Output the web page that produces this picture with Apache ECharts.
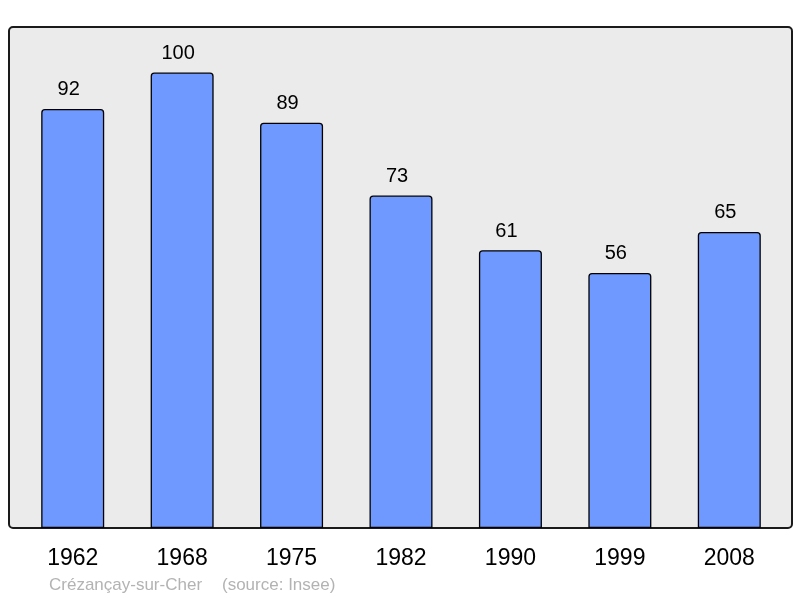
<!DOCTYPE html>
<html>
<head>
<meta charset="utf-8">
<script src="https://cdn.jsdelivr.net/npm/echarts@6/dist/echarts.min.js"></script>
<style>
  html, body { margin: 0; padding: 0; background: #fff; }
  #chart { width: 800px; height: 598px; }
</style>
</head>
<body>
<div id="chart"></div>
<script>
const years = ['1962', '1968', '1975', '1982', '1990', '1999', '2008'];
const population = [92, 100, 89, 73, 61, 56, 65];

var chart = echarts.init(document.getElementById('chart'));

chart.setOption({
    animation: false,
    graphic: [
        {
            type: 'rect',
            z: -10,
            shape: { x: 9, y: 27, width: 783, height: 501, r: 4 },
            style: { fill: '#ebebeb', stroke: '#1a1a1a', lineWidth: 2 }
        },
        {
            type: 'text',
            left: 49,
            top: 577,
            style: {
                text: 'Crézançay-sur-Cher',
                fill: '#b3b3b3',
                font: '17px "Liberation Sans", Arial, sans-serif'
            }
        },
        {
            type: 'text',
            left: 222,
            top: 577,
            style: {
                text: '(source: Insee)',
                fill: '#b3b3b3',
                font: '17px "Liberation Sans", Arial, sans-serif'
            }
        }
    ],
    grid: { left: 18, right: 16, top: 27, bottom: 70 },
    xAxis: {
        type: 'category',
        data: years,
        axisLine: { show: false },
        axisTick: { show: false },
        axisLabel: {
            color: '#000',
            fontSize: 23,
            margin: 19,
            fontFamily: '"Liberation Sans", Arial, sans-serif'
        }
    },
    yAxis: {
        type: 'value',
        min: 0,
        max: 110,
        show: false,
        splitLine: { show: false }
    },
    series: [{
        type: 'bar',
        data: population,
        barWidth: 63,
        itemStyle: {
            color: '#7099ff',
            borderColor: '#000',
            borderWidth: 1.3,
            borderRadius: [3, 3, 0, 0]
        },
        label: {
            show: true,
            position: 'top',
            distance: 9,
            offset: [-4, 0],
            color: '#000',
            fontSize: 20,
            fontFamily: '"Liberation Sans", Arial, sans-serif'
        }
    }]
});
</script>
</body>
</html>
